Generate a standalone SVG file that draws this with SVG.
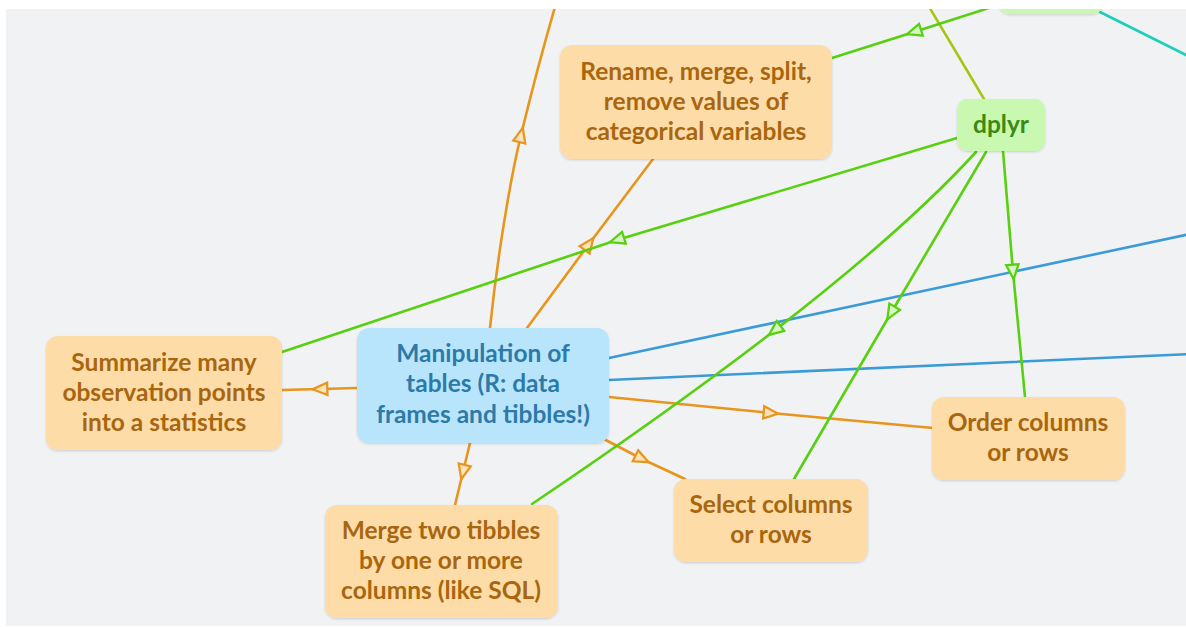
<svg xmlns="http://www.w3.org/2000/svg" width="1186" height="627" viewBox="0 0 1186 627">
<style>
.bg{fill:#f1f2f4}
.t{font-family:Lato,"Liberation Sans",sans-serif;font-weight:700;font-size:24.5px;text-anchor:middle}
.on rect{fill:#fddca8}
.on text{fill:#a8660f}
.bn rect{fill:#b9e5fc}
.bn text{fill:#2c7aa8}
.gn rect{fill:#c9f8b0}
.gn text{fill:#3a8a10}
.c{fill:none;stroke-width:2.6;stroke-linecap:round}
.or{stroke:#e8951c}
.gr{stroke:#58d00f}
.bl{stroke:#3b9ad8}
.ol{stroke:#a8c414}
.te{stroke:#1ccfb6}
</style>
<defs>
<clipPath id="area"><rect x="6" y="9" width="1180" height="617"/></clipPath>
<filter id="sh" x="-10%" y="-10%" width="120%" height="130%"><feDropShadow dx="0" dy="1.2" stdDeviation="0.8" flood-color="#000" flood-opacity="0.14"/></filter>
<marker id="ao" markerUnits="userSpaceOnUse" markerWidth="18" markerHeight="16" viewBox="-1.5 -1.5 16 14" refX="6.5" refY="5.5" orient="auto"><path d="M0,0 L13,5.5 L0,11 Z" fill="#fbe3bd" stroke="#e8951c" stroke-width="2" stroke-linejoin="miter"/></marker>
<marker id="ag" markerUnits="userSpaceOnUse" markerWidth="18" markerHeight="16" viewBox="-1.5 -1.5 16 14" refX="6.5" refY="5.5" orient="auto"><path d="M0,0 L13,5.5 L0,11 Z" fill="#d6f7c4" stroke="#58d00f" stroke-width="2" stroke-linejoin="miter"/></marker>
</defs>
<rect class="bg" x="6" y="9" width="1180" height="617"/>
<g clip-path="url(#area)">
<g id="connectors">
<path class="c ol" d="M984,99 L925,0"/>
<path class="c te" d="M1100,12 L1190,57"/>
<path class="c bl" d="M609,358 L1190,234"/>
<path class="c bl" d="M609,380 L1190,354"/>
<path class="c or" marker-mid="url(#ao)" d="M490,328 C497,260 510,180 521,135 C532,90 545,40 560,-10"/>
<path class="c or" marker-mid="url(#ao)" d="M527,328 L589,244 L653,159"/>
<path class="c or" marker-mid="url(#ao)" d="M357,388 L320,389 L282,390"/>
<path class="c or" marker-mid="url(#ao)" d="M470,443 L463,472 L455,505"/>
<path class="c or" marker-mid="url(#ao)" d="M600,437 L642,459 L685,479"/>
<path class="c or" marker-mid="url(#ao)" d="M609,397 L771,413 L933,428"/>
<path class="c gr" marker-mid="url(#ag)" d="M957,138 L617,240 L282,352"/>
<path class="c gr" marker-mid="url(#ag)" d="M1020,-2 L914,32 L832,58"/>
<path class="c gr" marker-mid="url(#ag)" d="M976,152 Q905.4,229.3 774.7,330.4 Q671.9,409.8 532,504"/>
<path class="c gr" marker-mid="url(#ag)" d="M986,152 L891,313 L794,479"/>
<path class="c gr" marker-mid="url(#ag)" d="M1003,151 L1013,272 L1025,397"/>
</g>
<g id="node-top" class="gn"><rect x="999" y="-40" width="104" height="54" rx="10" filter="url(#sh)"/></g>
<g id="node-dplyr" class="gn"><rect x="957" y="99" width="88" height="52" rx="10" filter="url(#sh)"/><text class="t" x="1001" y="133">dplyr</text></g>
<g id="node-rename" class="on"><rect x="560" y="45" width="272" height="114" rx="12" filter="url(#sh)"/>
<text class="t" x="696" y="80">Rename, merge, split,</text>
<text class="t" x="696" y="110">remove values of</text>
<text class="t" x="696" y="140">categorical variables</text></g>
<g id="node-summarize" class="on"><rect x="46" y="336" width="236" height="114" rx="12" filter="url(#sh)"/>
<text class="t" x="164" y="371">Summarize many</text>
<text class="t" x="164" y="401">observation points</text>
<text class="t" x="164" y="431">into a statistics</text></g>
<g id="node-manipulation" class="bn"><rect x="357" y="328" width="252" height="115" rx="12" filter="url(#sh)"/>
<text class="t" x="483" y="362">Manipulation of</text>
<text class="t" x="483" y="392">tables (R: data</text>
<text class="t" x="483" y="423">frames and tibbles!)</text></g>
<g id="node-merge" class="on"><rect x="325" y="505" width="233" height="113" rx="12" filter="url(#sh)"/>
<text class="t" x="441" y="539">Merge two tibbles</text>
<text class="t" x="441" y="569">by one or more</text>
<text class="t" x="441" y="599">columns (like SQL)</text></g>
<g id="node-select" class="on"><rect x="674" y="479" width="194" height="83" rx="12" filter="url(#sh)"/>
<text class="t" x="771" y="513">Select columns</text>
<text class="t" x="771" y="543">or rows</text></g>
<g id="node-order" class="on"><rect x="932" y="397" width="193" height="83" rx="12" filter="url(#sh)"/>
<text class="t" x="1028" y="431">Order columns</text>
<text class="t" x="1028" y="461">or rows</text></g>
</g>
</svg>
